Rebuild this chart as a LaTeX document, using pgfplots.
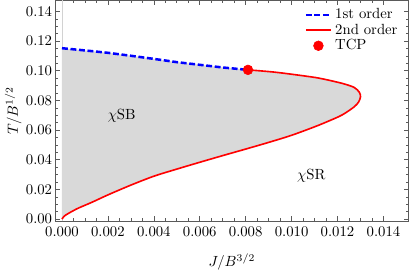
\documentclass[border=0pt]{standalone}
\usepackage{pgfplots}
\pgfplotsset{compat=1.18}
\definecolor{fillgray}{RGB}{217,217,217}
\definecolor{framegray}{RGB}{90,90,90}
\begin{document}
\begin{tikzpicture}
\begin{axis}[
  scale only axis,
  width=240pt, height=150pt,
  xmin=-0.0003, xmax=0.0151,
  ymin=-0.0015, ymax=0.1475,
  xtick={0,0.002,...,0.0141},
  ytick={0,0.02,...,0.141},
  minor tick num=3,
  tick align=inside,
  xtick pos=both, ytick pos=both,
  xticklabel pos=lower, yticklabel pos=left,
  major tick length=3.5pt, minor tick length=2pt,
  axis line style={framegray},
  every tick/.style={framegray},
  xticklabel style={/pgf/number format/.cd, fixed, fixed zerofill, precision=3},
  yticklabel style={xshift=1.5pt, /pgf/number format/.cd, fixed, fixed zerofill, precision=2},
  scaled x ticks=false, scaled y ticks=false,
  xlabel={$J/B^{3/2}$}, ylabel={$T/B^{1/2}$},
  xlabel style={yshift=-5pt},
  ylabel style={yshift=-4pt},
  legend style={draw=none, fill=none, at={(rel axis cs:0.99,0.99)}, anchor=north east,
    row sep=-2pt, font=\normalsize},
  legend cell align=left,
  clip=true,
]
% light line at J=0
\addplot[forget plot, gray!35, line width=0.4pt] coordinates {(0,-0.0015) (0,0.1475)};
% filled region
\addplot[forget plot, draw=none, fill=fillgray] coordinates {
(0,0.1152) (0.001,0.1137) (0.002,0.1121) (0.003,0.1101) (0.004,0.1080) (0.005,0.1058) (0.006,0.1040) (0.007,0.1022) (0.0081,0.1006)
(0.0093,0.0990) (0.0107,0.0962) (0.0113,0.0947) (0.0122,0.0915) (0.01272,0.0888) (0.01295,0.0855) (0.0130,0.0824) (0.01292,0.0790) (0.01272,0.0756) (0.0122,0.0702) (0.0116,0.0660) (0.011,0.0622) (0.010,0.0565) (0.009,0.0517) (0.008,0.0472) (0.007,0.0428) (0.006,0.0383) (0.005,0.0337) (0.004,0.0289) (0.003,0.0229) (0.002,0.0163) (0.0013,0.0113) (0.0007,0.0073) (0.0003,0.0040) (0.0001,0.0020) (0,0)
} -- cycle;
% first order
\addplot[blue, line width=1.7pt, dash pattern=on 4pt off 1.8pt] coordinates {
(0,0.1152) (0.001,0.1137) (0.002,0.1121) (0.003,0.1101) (0.004,0.1080) (0.005,0.1058) (0.006,0.1040) (0.007,0.1022) (0.0081,0.1006)
};
\addlegendentry{1st order}
% second order
\addplot[red, line width=1.1pt, smooth, tension=0.5] coordinates {
(0.0081,0.1006) (0.0093,0.0990) (0.0107,0.0962) (0.0113,0.0947) (0.0122,0.0915) (0.01272,0.0888) (0.01295,0.0855) (0.0130,0.0824) (0.01292,0.0790) (0.01272,0.0756) (0.0122,0.0702) (0.0116,0.0660) (0.011,0.0622) (0.010,0.0565) (0.009,0.0517) (0.008,0.0472) (0.007,0.0428) (0.006,0.0383) (0.005,0.0337) (0.004,0.0289) (0.003,0.0229) (0.002,0.0163) (0.0013,0.0113) (0.0007,0.0073) (0.0003,0.0040) (0.0001,0.0020) (0,0)
};
\addlegendentry{2nd order}
% TCP
\addplot[only marks, mark=*, red, mark size=3.3pt] coordinates {(0.0081,0.1006)};
\addlegendentry{TCP}
\node at (axis cs:0.0026,0.070) {$\chi$SB};
\node at (axis cs:0.01086,0.0294) {$\chi$SR};
\end{axis}
\end{tikzpicture}
\end{document}
